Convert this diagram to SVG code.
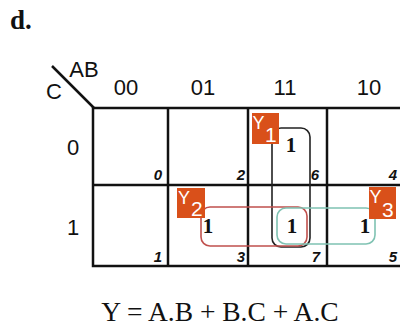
<svg xmlns="http://www.w3.org/2000/svg" width="400" height="327" viewBox="0 0 400 327">
<style>
.grid{fill:none;stroke:#111;stroke-width:2.5}
.hdr{font-family:"Liberation Sans",Arial,sans-serif;font-size:22px;fill:#111;text-anchor:middle}
.idx{font-family:"Liberation Sans",Arial,sans-serif;font-size:15px;font-style:italic;font-weight:bold;fill:#111;text-anchor:end}
.one{font-family:"Liberation Serif","Times New Roman",serif;font-size:21px;font-weight:bold;fill:#111;text-anchor:middle}
.box{fill:#d9501a}
.ylab{font-family:"Liberation Sans",Arial,sans-serif;fill:#fff}
.loop{fill:none;stroke-width:1.6}
</style>
<rect width="400" height="327" fill="#fff"/>
<text x="10" y="29" font-family="'Liberation Serif','Times New Roman',serif" font-size="27" font-weight="bold" fill="#111">d.</text>
<g id="grid">
<rect class="grid" x="93" y="108" width="313" height="158"/>
<line class="grid" x1="93" y1="185" x2="406" y2="185"/>
<line class="grid" x1="168" y1="108" x2="168" y2="266"/>
<line class="grid" x1="248" y1="108" x2="248" y2="266"/>
<line class="grid" x1="327" y1="108" x2="327" y2="266"/>
<line class="grid" x1="52" y1="66" x2="94" y2="108"/>
</g>
<g id="labels">
<text x="84" y="77" class="hdr" font-size="20">AB</text>
<text x="54" y="99" class="hdr">C</text>
<text x="126" y="95" class="hdr">00</text>
<text x="203" y="95" class="hdr">01</text>
<text x="285" y="95" class="hdr">11</text>
<text x="369" y="95" class="hdr">10</text>
<text x="73" y="155" class="hdr">0</text>
<text x="73" y="235" class="hdr">1</text>
</g>
<g id="cell-indices">
<text x="162" y="180" class="idx">0</text>
<text x="245" y="180" class="idx">2</text>
<text x="319" y="180" class="idx">6</text>
<text x="397" y="180" class="idx">4</text>
<text x="162" y="262" class="idx">1</text>
<text x="245" y="262" class="idx">3</text>
<text x="320" y="262" class="idx">7</text>
<text x="397" y="262" class="idx">5</text>
</g>
<g id="connectors">
<rect class="loop" x="272" y="128" width="38" height="119" rx="9" stroke="#222"/>
<rect class="loop" x="201" y="207" width="106" height="39" rx="9" stroke="#c0504d"/>
<rect class="loop" x="277" y="208" width="98" height="36" rx="9" stroke="#7fc2b2"/>
</g>
<g id="ones">
<text x="291" y="152" class="one">1</text>
<text x="208" y="233" class="one">1</text>
<text x="292" y="233" class="one">1</text>
<text x="365" y="233" class="one">1</text>
</g>
<g id="Y1">
<rect class="box" x="252" y="113" width="27" height="31"/>
<text class="ylab" x="252.5" y="129" font-size="18">Y</text>
<text class="ylab" x="265" y="142" font-size="21">1</text>
</g>
<g id="Y2">
<rect class="box" x="177" y="188" width="28" height="30"/>
<text class="ylab" x="178" y="204" font-size="18">Y</text>
<text class="ylab" x="191" y="216" font-size="21">2</text>
</g>
<g id="Y3">
<rect class="box" x="369" y="187" width="27" height="32"/>
<text class="ylab" x="369.5" y="203" font-size="18">Y</text>
<text class="ylab" x="382" y="217" font-size="21">3</text>
</g>
<text x="220" y="321" text-anchor="middle" font-family="'Liberation Serif','Times New Roman',serif" font-size="27.5" fill="#111">Y = A.B + B.C + A.C</text>
</svg>
